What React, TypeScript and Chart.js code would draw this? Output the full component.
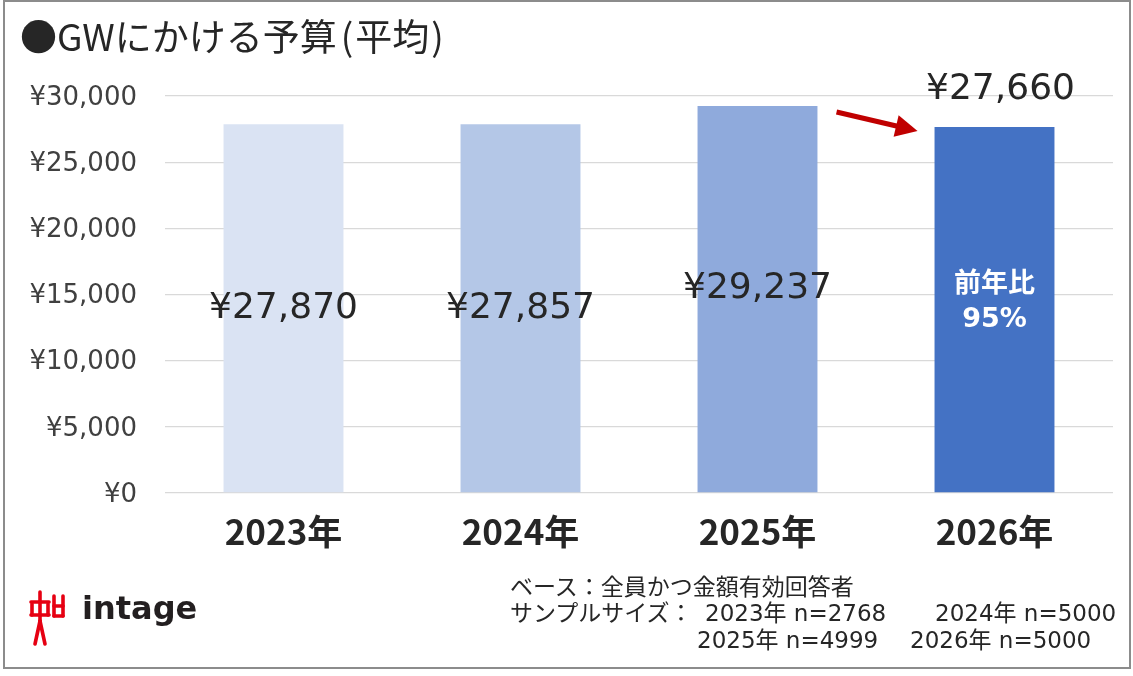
import React, { useEffect, useRef } from "react";
import { Chart, registerables } from "chart.js";

Chart.register(...registerables);

const categories = ["2023年", "2024年", "2025年", "2026年"];
const budgets = [27870, 27857, 29237, 27660];
const barColors = ["#DAE3F3", "#B4C7E7", "#8FAADC", "#4472C4"];
const valueLabels = ["¥27,870", "¥27,857", "¥29,237", "¥27,660"];
const yoyLines = ["前年比", "95%"];
const yTicks = [0, 5000, 10000, 15000, 20000, 25000, 30000];

const FONT = "'DejaVu Sans', 'Noto Sans CJK JP', sans-serif";
const JFONT = "'Noto Sans CJK JP', 'Noto Sans', sans-serif";

const labelPlugin = {
  id: "labels",
  afterDatasetsDraw(chart: any) {
    const ctx = chart.ctx;
    const meta = chart.getDatasetMeta(0);
    ctx.save();
    meta.data.forEach((bar: any, i: number) => {
      const base = bar.base;
      const top = bar.y;
      ctx.textAlign = "center";
      ctx.textBaseline = "middle";
      if (i < 3) {
        ctx.fillStyle = "#262626";
        ctx.font = `400 36px ${FONT}`;
        const y = i === 2 ? (top + base) / 2 - 11 : (top + base) / 2;
        ctx.fillText(valueLabels[i], bar.x, y);
      } else {
        ctx.fillStyle = "#262626";
        ctx.font = `400 36px ${FONT}`;
        ctx.fillText(valueLabels[i], bar.x + 6, top - 37);
        ctx.fillStyle = "#ffffff";
        ctx.font = `700 27px ${JFONT}`;
        const mid = (top + base) / 2;
        ctx.fillText(yoyLines[0], bar.x, mid - 28);
        ctx.font = `600 27px ${FONT}`;
        ctx.fillText(yoyLines[1], bar.x, mid + 10);
        // arrow
        const left = bar.x - bar.width / 2;
        const x1 = left - 98, y1 = top - 15;
        const x2 = left - 17, y2 = top + 4;
        const ang = Math.atan2(y2 - y1, x2 - x1);
        ctx.strokeStyle = "#C00000";
        ctx.fillStyle = "#C00000";
        ctx.lineWidth = 5;
        ctx.beginPath();
        ctx.moveTo(x1, y1);
        ctx.lineTo(x2 - 14 * Math.cos(ang), y2 - 14 * Math.sin(ang));
        ctx.stroke();
        ctx.beginPath();
        ctx.moveTo(x2, y2);
        ctx.lineTo(x2 - 22 * Math.cos(ang) + 11 * Math.sin(ang), y2 - 22 * Math.sin(ang) - 11 * Math.cos(ang));
        ctx.lineTo(x2 - 22 * Math.cos(ang) - 11 * Math.sin(ang), y2 - 22 * Math.sin(ang) + 11 * Math.cos(ang));
        ctx.closePath();
        ctx.fill();
      }
    });
    ctx.restore();
  },
};

function Logo() {
  return (
    <svg width="40" height="60" viewBox="0 0 40 60" style={{ position: "absolute", left: 28, top: 589 }}>
      <g stroke="#E60012" strokeWidth="3.6" fill="none" strokeLinecap="round">
        <line x1="12" y1="3" x2="12" y2="12" />
        <line x1="3" y1="13" x2="21" y2="13" />
        <line x1="4" y1="15" x2="4" y2="26" />
        <line x1="20" y1="15" x2="20" y2="26" />
        <line x1="3" y1="26" x2="21" y2="26" />
        <line x1="12" y1="13" x2="12" y2="32" />
        <line x1="12" y1="32" x2="7" y2="55" />
        <line x1="12" y1="32" x2="17" y2="55" />
        <line x1="26" y1="7" x2="26" y2="27" />
        <line x1="35" y1="7" x2="35" y2="27" />
        <line x1="26" y1="17" x2="35" y2="17" />
        <line x1="26" y1="27" x2="35" y2="27" />
      </g>
    </svg>
  );
}

export default function App() {
  const ref = useRef<HTMLCanvasElement>(null);
  useEffect(() => {
    document.body.style.margin = "0";
    const chart = new Chart(ref.current!, {
      type: "bar",
      data: {
        labels: categories,
        datasets: [
          {
            data: budgets,
            backgroundColor: barColors,
            borderWidth: 0,
            categoryPercentage: 1,
            barPercentage: 0.506,
          },
        ],
      },
      options: {
        animation: false,
        responsive: false,
        maintainAspectRatio: false,
        layout: { padding: { left: 15, right: 20, top: 96, bottom: 103 } },
        plugins: { legend: { display: false }, tooltip: { enabled: false } },
        scales: {
          x: {
            grid: { display: false, drawTicks: false },
            border: { display: false },
            ticks: { color: "#262626", font: { family: JFONT, size: 35, weight: "bold" }, padding: 18 },
            afterFit: (s: any) => { s.height = 80; },
          },
          y: {
            min: 0,
            max: 30000,
            afterBuildTicks: (s: any) => { s.ticks = yTicks.map((v) => ({ value: v })); },
            grid: { color: "#D9D9D9", lineWidth: 1.3, drawTicks: false },
            border: { display: false },
            ticks: {
              color: "#404040",
              font: { family: FONT, size: 26 },
              padding: 28,
              labelOffset: 2,
              callback: (v: any) => "¥" + Number(v).toLocaleString("en-US"),
            },
            afterFit: (s: any) => { s.width = 150; },
          },
        },
      },
      plugins: [labelPlugin],
    });
    return () => chart.destroy();
  }, []);

  const foot: React.CSSProperties = { position: "absolute", fontFamily: FONT, fontSize: 23, color: "#262626", whiteSpace: "pre", lineHeight: "26px" };
  return (
    <div style={{ position: "relative", width: 1133, height: 676, background: "#fff", overflow: "hidden" }}>
      <div style={{ position: "absolute", left: 3, top: 0, width: 1124, height: 665, border: "2px solid #8C8C8C" }} />
      <canvas ref={ref} width={1133} height={676} style={{ position: "absolute", left: 0, top: 0 }} />
      <div style={{ position: "absolute", left: 20, top: 11, fontFamily: JFONT, fontSize: 37, color: "#262626", whiteSpace: "pre", lineHeight: "48px" }}>
        ●GWにかける予算<span style={{ marginLeft: 4, marginRight: 2 }}>(</span>平均<span style={{ marginLeft: 2 }}>)</span>
      </div>
      <Logo />
      <div style={{ position: "absolute", left: 82, top: 588, fontFamily: "'DejaVu Sans', sans-serif", fontWeight: 700, fontSize: 32, color: "#231F20", lineHeight: "40px" }}>
        intage
      </div>
      <div style={{ ...foot, left: 510, top: 574 }}>ベース：全員かつ金額有効回答者</div>
      <div style={{ ...foot, left: 510, top: 600 }}>サンプルサイズ：</div>
      <div style={{ ...foot, left: 705, top: 600 }}>2023年 n=2768</div>
      <div style={{ ...foot, left: 935, top: 600 }}>2024年 n=5000</div>
      <div style={{ ...foot, left: 697, top: 627 }}>2025年 n=4999</div>
      <div style={{ ...foot, left: 910, top: 627 }}>2026年 n=5000</div>
    </div>
  );
}
